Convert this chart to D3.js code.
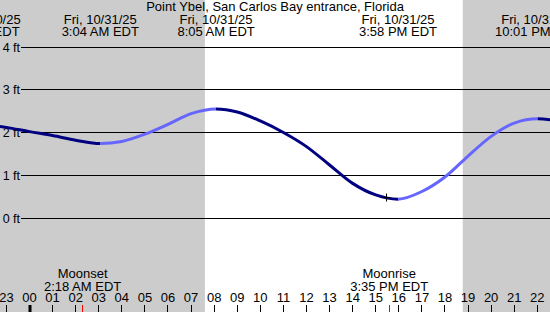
<!DOCTYPE html>
<html>
<head>
<meta charset="utf-8">
<script src="https://cdn.jsdelivr.net/npm/d3@7"></script>
<style>
  body { margin: 0; background: #fff; }
  svg { display: block; font-family: "Liberation Sans", Arial, sans-serif; }
</style>
</head>
<body>
<svg width="550" height="312"></svg>
<script>
// tide readings (hours from midnight 10/31, feet)
var tideHours = [-2.12, -1, 0, 1, 2, 3.067, 4, 5, 6, 7, 8.083, 9, 10, 11, 12, 13, 14, 15, 15.967, 17, 18, 19, 20, 21, 22.017, 23];
var tideFt = [2.20, 2.12, 2.02, 1.93, 1.82, 1.74, 1.79, 1.96, 2.19, 2.44, 2.55, 2.48, 2.27, 2.00, 1.67, 1.24, 0.81, 0.54, 0.44, 0.62, 0.96, 1.45, 1.91, 2.22, 2.32, 2.27];

// highs and lows
var eventHours = [-2.12, 3.067, 8.083, 15.967, 22.017];
var eventDates = ["Thu, 10/30/25", "Fri, 10/31/25", "Fri, 10/31/25", "Fri, 10/31/25", "Fri, 10/31/25"];
var eventTimes = ["9:53 PM EDT", "3:04 AM EDT", "8:05 AM EDT", "3:58 PM EDT", "10:01 PM EDT"];

// moon
var moonHours = [2.3, 15.583];
var moonNames = ["Moonset", "Moonrise"];
var moonTimes = ["2:18 AM EDT", "3:35 PM EDT"];

// sun
var sunrise = 7.6, sunset = 18.77;

// hour axis
var tickHours = d3.range(-1, 23);
var tickLabels = ["23", "00", "01", "02", "03", "04", "05", "06", "07", "08", "09", "10", "11", "12", "13", "14", "15", "16", "17", "18", "19", "20", "21", "22"];

var ftTicks = [0, 1, 2, 3, 4];

// current time marker
var nowHour = 15.45, nowFt = 0.47;

var title = "Point Ybel, San Carlos Bay entrance, Florida";

var svg = d3.select("svg");
var width = +svg.attr("width");
var height = +svg.attr("height");

var x = d3.scaleLinear().domain([0, 22]).range([29.5, 537.3]);
var y = d3.scaleLinear().domain([0, 4]).range([218, 47]);

var crisp = function(v) { return Math.floor(v) + 0.5; };

// night / day background
svg.append("rect").attr("width", width).attr("height", height).attr("fill", "#cccccc");
svg.append("rect")
  .attr("x", x(sunrise)).attr("y", 0)
  .attr("width", x(sunset) - x(sunrise)).attr("height", height)
  .attr("fill", "#ffffff");

// grid lines + ft labels
var grid = svg.append("g");
grid.selectAll("line").data(ftTicks).enter().append("line")
  .attr("x1", 21).attr("x2", width)
  .attr("y1", d => crisp(y(d))).attr("y2", d => crisp(y(d)))
  .attr("stroke", "#000").attr("stroke-width", 1);
grid.selectAll("text").data(ftTicks).enter().append("text")
  .attr("x", 20).attr("y", d => y(d) + 4.5)
  .attr("text-anchor", "end")
  .attr("font-size", "12.5px")
  .text(d => d + " ft");

// tide curve, dark when falling, light when rising
var pts = tideHours.map((h, i) => [h, tideFt[i]]);
var line = d3.line().x(d => x(d[0])).y(d => y(d[1])).curve(d3.curveMonotoneX);

var bounds = [x.invert(0) - 1].concat(eventHours.slice(1), [x.invert(width) + 1]);
var defs = svg.append("defs");
var curves = svg.append("g");
for (var i = 0; i < bounds.length - 1; i++) {
  var a = bounds[i], b = bounds[i + 1];
  var ia = tideHours.indexOf(eventHours[i]);
  var ib = i + 1 < eventHours.length ? tideHours.indexOf(eventHours[i + 1]) : tideHours.length - 1;
  var rising = tideFt[ib] > tideFt[ia];
  defs.append("clipPath").attr("id", "seg" + i)
    .append("rect")
    .attr("x", x(a)).attr("y", 0)
    .attr("width", x(b) - x(a)).attr("height", height);
  curves.append("path")
    .datum(pts)
    .attr("d", line)
    .attr("clip-path", "url(#seg" + i + ")")
    .attr("fill", "none")
    .attr("stroke", rising ? "#6666ff" : "#000080")
    .attr("stroke-width", 3);
}

// now marker
var nx = crisp(x(nowHour)), ny = crisp(y(nowFt));
svg.append("path")
  .attr("d", "M" + (nx - 4) + "," + ny + "H" + (nx + 4) + "M" + nx + "," + (ny - 4) + "V" + (ny + 4))
  .attr("stroke", "#000").attr("stroke-width", 1);

// title
svg.append("text")
  .attr("x", width / 2).attr("y", 11)
  .attr("text-anchor", "middle").attr("font-size", "13px")
  .text(title);

// high / low labels
var ev = svg.append("g").attr("font-size", "13px").attr("text-anchor", "middle");
ev.selectAll("text.d").data(eventHours).enter().append("text")
  .attr("class", "d")
  .attr("x", d => x(d)).attr("y", 24)
  .text((d, i) => eventDates[i]);
ev.selectAll("text.t").data(eventHours).enter().append("text")
  .attr("class", "t")
  .attr("x", d => x(d)).attr("y", 36)
  .text((d, i) => eventTimes[i]);

// moon labels
var moon = svg.append("g").attr("font-size", "13px").attr("text-anchor", "middle");
moon.selectAll("text.n").data(moonHours).enter().append("text")
  .attr("class", "n")
  .attr("x", d => x(d)).attr("y", 278)
  .text((d, i) => moonNames[i]);
moon.selectAll("text.t").data(moonHours).enter().append("text")
  .attr("class", "t")
  .attr("x", d => x(d)).attr("y", 290.5)
  .text((d, i) => moonTimes[i]);

// hour ticks
var axis = svg.append("g");
axis.selectAll("text").data(tickHours).enter().append("text")
  .attr("x", d => x(d)).attr("y", 302)
  .attr("text-anchor", "middle").attr("font-size", "13px")
  .text((d, i) => tickLabels[i]);
axis.selectAll("line").data(tickHours).enter().append("line")
  .attr("x1", d => d === 0 ? Math.round(x(d)) : crisp(x(d)))
  .attr("x2", d => d === 0 ? Math.round(x(d)) : crisp(x(d)))
  .attr("y1", 305).attr("y2", height)
  .attr("stroke", "#000")
  .attr("stroke-width", d => d === 0 ? 3 : 1);
axis.selectAll("line.moon").data(moonHours).enter().append("line")
  .attr("class", "moon")
  .attr("x1", d => crisp(x(d))).attr("x2", d => crisp(x(d)))
  .attr("y1", 305).attr("y2", height)
  .attr("stroke", "#ff0000").attr("stroke-width", 1);
</script>
</body>
</html>
